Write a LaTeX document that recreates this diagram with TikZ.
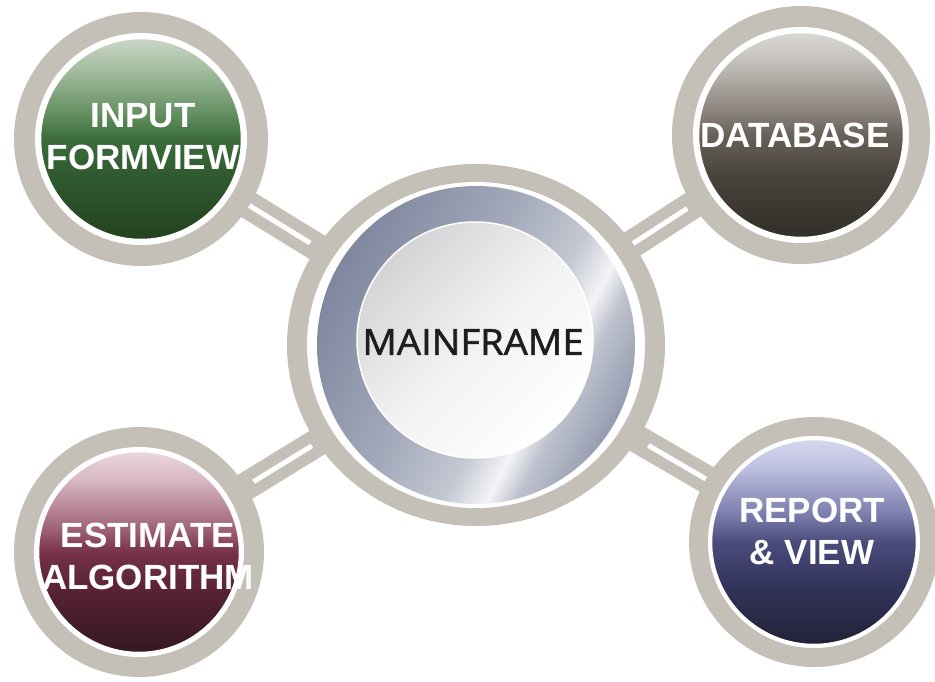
\documentclass[tikz,border=0pt]{standalone}
\usepackage{fontspec}
\usetikzlibrary{calc}
\newfontfamily\satfont{Liberation Sans}[BoldFont={Liberation Sans Bold}]
\newfontfamily\hubfont{Open Sans}[FakeBold=1.6, FakeStretch=1.06]

% colours
\definecolor{ringgray}{HTML}{C4C0B8}
\definecolor{hubtext}{HTML}{1E1E1E}

% glass discs: stops run from bottom (25bp) to top (75bp)
\pgfdeclareverticalshading{greenglass}{100bp}{%
  color(0bp)=(rgb,255:red,36;green,66;blue,31);
  color(25bp)=(rgb,255:red,36;green,66;blue,31);
  color(40bp)=(rgb,255:red,46;green,88;blue,46);
  color(50bp)=(rgb,255:red,60;green,108;blue,59);
  color(56bp)=(rgb,255:red,98;green,142;blue,95);
  color(68bp)=(rgb,255:red,168;green,192;blue,164);
  color(75bp)=(rgb,255:red,202;green,214;blue,198);
  color(100bp)=(rgb,255:red,202;green,214;blue,198)}
\pgfdeclareverticalshading{greyglass}{100bp}{%
  color(0bp)=(rgb,255:red,50;green,46;blue,41);
  color(25bp)=(rgb,255:red,50;green,46;blue,41);
  color(40bp)=(rgb,255:red,72;green,67;blue,59);
  color(50bp)=(rgb,255:red,104;green,97;blue,88);
  color(56bp)=(rgb,255:red,140;green,134;blue,126);
  color(68bp)=(rgb,255:red,196;green,193;blue,188);
  color(75bp)=(rgb,255:red,218;green,216;blue,212);
  color(100bp)=(rgb,255:red,218;green,216;blue,212)}
\pgfdeclareverticalshading{maroonglass}{100bp}{%
  color(0bp)=(rgb,255:red,52;green,24;blue,32);
  color(25bp)=(rgb,255:red,52;green,24;blue,32);
  color(40bp)=(rgb,255:red,86;green,34;blue,50);
  color(50bp)=(rgb,255:red,118;green,50;blue,72);
  color(56bp)=(rgb,255:red,160;green,100;blue,120);
  color(68bp)=(rgb,255:red,216;green,184;blue,196);
  color(75bp)=(rgb,255:red,236;green,216;blue,224);
  color(100bp)=(rgb,255:red,236;green,216;blue,224)}
\pgfdeclareverticalshading{blueglass}{100bp}{%
  color(0bp)=(rgb,255:red,33;green,33;blue,56);
  color(25bp)=(rgb,255:red,33;green,33;blue,56);
  color(40bp)=(rgb,255:red,52;green,53;blue,92);
  color(50bp)=(rgb,255:red,74;green,76;blue,124);
  color(56bp)=(rgb,255:red,118;green,120;blue,168);
  color(68bp)=(rgb,255:red,190;green,192;blue,224);
  color(75bp)=(rgb,255:red,214;green,216;blue,238);
  color(100bp)=(rgb,255:red,214;green,216;blue,238)}
% brushed metal ring and the pale hub face
\pgfdeclareverticalshading{metal}{100bp}{%
  color(0bp)=(rgb,255:red,126;green,135;blue,158);
  color(25bp)=(rgb,255:red,126;green,135;blue,158);
  color(45bp)=(rgb,255:red,163;green,169;blue,186);
  color(57bp)=(rgb,255:red,196;green,200;blue,210);
  color(63bp)=(rgb,255:red,243;green,244;blue,246);
  color(67bp)=(rgb,255:red,190;green,194;blue,206);
  color(75bp)=(rgb,255:red,150;green,156;blue,176);
  color(100bp)=(rgb,255:red,150;green,156;blue,176)}
\pgfdeclareverticalshading{hubface}{100bp}{%
  color(0bp)=(rgb,255:red,255;green,255;blue,255);
  color(25bp)=(rgb,255:red,255;green,255;blue,255);
  color(50bp)=(rgb,255:red,242;green,242;blue,242);
  color(75bp)=(rgb,255:red,212;green,212;blue,214);
  color(100bp)=(rgb,255:red,212;green,212;blue,214)}

\tikzset{
  band/.style={draw=ringgray, line width=28pt},
  slot/.style={draw=white, line width=5pt},
  disc/.style={circle, inner sep=0pt, draw=white, line width=2.5pt},
  sattext/.style={text=white, align=center,
    font=\satfont\bfseries\fontsize{35}{42}\selectfont},
  hubtextstyle/.style={text=hubtext, font=\hubfont\fontsize{36}{42}\selectfont},
}

\begin{document}
\begin{tikzpicture}[x=1pt, y=-1pt]
  \useasboundingbox (0,0) rectangle (935,681);
  \fill[white] (0,0) rectangle (935,681);

  % centres
  \coordinate (hub) at (476,345);
  \coordinate (tl) at (141,139);
  \coordinate (tr) at (801,135);
  \coordinate (bl) at (139,552);
  \coordinate (br) at (814,542);

  % connectors: grey bars with a white slot
  \draw[band] (tl) -- (hub);
  \draw[band] (tr) -- (hub);
  \draw[band] (bl) -- (hub);
  \draw[band] (br) -- (hub);
  \draw[slot] ($(tl)!0.31!(hub)$) -- ($(tl)!0.505!(hub)$);
  \draw[slot] ($(tr)!0.35!(hub)$) -- ($(tr)!0.517!(hub)$);
  \draw[slot] ($(bl)!0.34!(hub)$) -- ($(bl)!0.513!(hub)$);
  \draw[slot] ($(br)!0.31!(hub)$) -- ($(br)!0.49!(hub)$);

  % grey outer rings
  \fill[ringgray] (tl) circle (127pt);
  \fill[white] (tl) circle (106pt);
  \fill[ringgray] (tr) circle (129pt);
  \fill[white] (tr) circle (108pt);
  \fill[ringgray] (bl) circle (125pt);
  \fill[white] (bl) circle (105pt);
  \fill[ringgray] (br) circle (125pt);
  \fill[white] (br) circle (106pt);
  \fill[ringgray] (hub) ellipse [x radius=189pt, y radius=181pt];
  \fill[white] (hub) ellipse [x radius=169pt, y radius=163pt];

  % central hub
  \node[circle, inner sep=0pt, minimum size=318pt, shading=metal, shading angle=-118] (ring) at (hub) {};
  \node[circle, inner sep=0pt, minimum size=236pt, shading=hubface, shading angle=45,
        draw=white, line width=1.5pt] (face) at (475,340) {};
  \node[hubtextstyle] (mainframe) at (473,342) {MAINFRAME};

  % satellite discs
  \node[disc, minimum size=202pt, shading=greenglass] (input) at (tl) {};
  \node[disc, minimum size=206pt, shading=greyglass] (database) at (tr) {};
  \node[disc, minimum size=202pt, shading=maroonglass] (estimate) at (bl) {};
  \node[disc, minimum size=206pt, shading=blueglass] (report) at (br) {};

  \node[sattext] (inputtext) at (143,136.5) {INPUT\\FORMVIEW};
  \node[sattext] (databasetext) at (795,135.5) {DATABASE};
  \node[sattext] (estimatetext) at (148,556.5) {ESTIMATE\\ALGORITHM};
  \node[sattext] (reporttext) at (812,531.5) {REPORT\\\& VIEW};
\end{tikzpicture}
\end{document}
